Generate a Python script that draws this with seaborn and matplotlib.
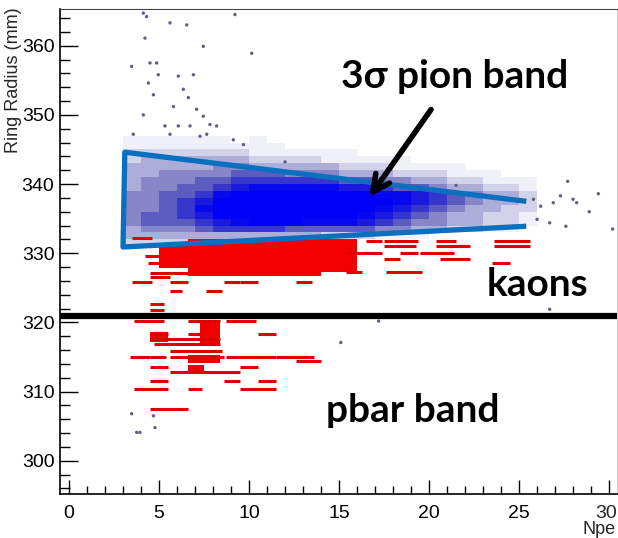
import numpy as np
import pandas as pd
import seaborn as sns
import matplotlib
matplotlib.use("Agg")
from matplotlib import pyplot as plt
from matplotlib.colors import ListedColormap
from matplotlib.ticker import MultipleLocator, FuncFormatter

# pion cloud density, 1 Npe x 1 mm cells, rows from top (346) to bottom (331), cols Npe 3..25
blue_y_top = 346
blue_x_first = 3
blue_rows = [
    "11111101000000000000000",
    "11111111100000000000000",
    "22222221111110000000000",
    "23333332222111110000000",
    "33333443333322211110000",
    "33444455544433322211100",
    "34445566666655443322111",
    "34455678888877655433221",
    "44556899999999887654332",
    "44567999999999987654332",
    "44568999999999876543322",
    "45567999999998765433221",
    "45556789998887654433221",
    "34445666655555443322110",
    "33333333333222111000000",
    "22222211111000000000000",
]

# stray hits outside the bands
stray_x = [4.13, 4.31, 5.61, 6.54, 9.22, 4.22, 7.46, 10.15, 3.48, 4.5, 4.87, 4.96, 6.07, 6.91,
           4.41, 6.35, 4.69, 6.63, 5.8, 7.09, 4.13, 7.46, 5.33, 6.07, 6.72, 7.83, 8.2, 3.57,
           5.61, 7.28, 7.65, 9.13, 9.69, 25.8, 26.2, 26.9, 27.3, 27.7, 28.0, 26.0, 26.7, 27.6,
           28.2, 30.2, 28.9, 29.4, 3.48, 3.76, 3.94, 4.78, 4.69, 15.1, 17.2, 26.7, 12.0, 21.5]
stray_y = [364.7, 364.2, 363.3, 363.0, 364.5, 361.1, 359.9, 358.9, 357.0, 357.5, 357.5, 355.8,
           355.6, 355.8, 354.6, 353.7, 352.9, 352.5, 351.2, 350.8, 350.0, 349.8, 348.4, 348.4,
           348.4, 348.6, 348.4, 347.2, 347.2, 346.9, 347.2, 346.4, 345.7, 337.8, 336.8, 337.3,
           338.3, 340.4, 337.8, 334.9, 334.4, 333.9, 337.3, 333.5, 336.0, 338.6, 306.8, 304.1,
           304.1, 304.8, 306.5, 317.1, 320.2, 321.9, 343.2, 339.8]

# dense kaon / pbar blocks: (x0, x1, y0, y1)
red_blocks = [
    (5.0, 6.6, 327.8, 331.5),
    (6.6, 14.0, 326.7, 332.0),
    (14.0, 16.0, 327.3, 332.0),
    (4.5, 5.5, 317.1, 318.6),
    (7.3, 8.4, 316.6, 320.0),
    (6.6, 8.4, 314.2, 315.3),
    (6.6, 7.5, 312.6, 313.9),
]

# short red streaks: (x0, x1, y)
red_streaks = [
    (3.5, 4.6, 332.2), (4.5, 6.6, 327.2), (4.5, 5.6, 326.5), (4.2, 5.0, 329.6), (4.4, 5.0, 328.6),
    (3.5, 4.6, 325.8), (5.6, 6.6, 325.8), (8.6, 9.5, 325.8), (9.5, 10.5, 325.8), (12.6, 13.5, 325.8),
    (5.6, 6.3, 324.6), (7.6, 8.5, 324.6), (4.5, 5.3, 322.6), (4.5, 5.3, 321.8),
    (16.5, 17.4, 331.7), (17.5, 19.4, 331.7), (20.4, 21.5, 331.7), (23.6, 25.6, 331.7),
    (17.5, 19.3, 331.1), (20.4, 22.3, 331.1), (23.6, 25.6, 331.1),
    (15.5, 17.4, 330.1), (18.4, 19.4, 330.1), (19.5, 21.4, 330.1),
    (17.5, 18.4, 329.1), (20.6, 22.3, 329.1), (23.5, 24.5, 328.6),
    (15.4, 16.3, 327.3), (17.6, 19.6, 327.3),
    (3.6, 5.3, 320.2), (6.6, 8.4, 320.2), (8.7, 10.4, 320.2),
    (4.5, 5.5, 318.3), (6.6, 7.4, 318.3), (10.5, 11.5, 318.3),
    (4.5, 8.4, 317.6), (4.7, 8.4, 316.9), (5.6, 8.5, 315.8),
    (3.4, 4.5, 315.0), (4.5, 5.4, 315.0), (5.6, 8.6, 315.0), (8.7, 11.5, 315.0), (11.5, 13.6, 315.0),
    (12.6, 14.0, 314.4), (4.5, 5.5, 313.6), (9.5, 10.5, 313.6),
    (5.6, 9.5, 312.8), (4.5, 5.5, 311.5), (8.6, 9.5, 311.5), (10.5, 11.5, 311.5),
    (3.6, 5.5, 310.4), (6.6, 7.4, 310.4), (9.5, 11.5, 310.4),
    (4.5, 6.6, 307.5),
]

kaon_cut = 320.9
# 3 sigma pion band outline (open on the right)
band_x = [25.4, 3.1, 3.0, 25.4]
band_y = [337.5, 344.6, 330.9, 333.9]

x_max_tick = 30

# long table for the pion cloud
cells = []
for i, row in enumerate(blue_rows):
    for j, ch in enumerate(row):
        cells.append((blue_x_first + j + 0.5, blue_y_top - i + 0.5, int(ch)))
cloud = pd.DataFrame(cells, columns=["npe", "radius", "w"])

sns.set_style("white")
plt.rcParams["font.family"] = ["Liberation Sans Narrow", "Liberation Sans", "DejaVu Sans"]

fig = plt.figure(figsize=(6.18, 5.38), dpi=100)
ax = fig.add_axes([60 / 618, 44 / 538, 557 / 618, 485 / 538])

# one colour per density level 1..9 (0 is left blank by histplot)
cmap = ListedColormap(["#f0f0f8", "#d2d2ea", "#adadda", "#8686c8", "#5c5cc0",
                       "#3636cc", "#1a1ade", "#0808ee", "#0000f8"])
x_edges = np.arange(blue_x_first, blue_x_first + len(blue_rows[0]) + 1)
y_edges = np.arange(blue_y_top - len(blue_rows) + 1, blue_y_top + 2)
sns.histplot(data=cloud, x="npe", y="radius", weights="w", bins=[x_edges, y_edges],
             cmap=cmap, vmin=0.5, vmax=9.5, ax=ax)

for x0, x1, y0, y1 in red_blocks:
    ax.fill_between([x0, x1], y0, y1, color="#f20000", lw=0, zorder=3)
for x0, x1, y in red_streaks:
    ax.hlines(y, x0, x1, color="#e00000", lw=2.2, zorder=3)

sns.scatterplot(x=stray_x, y=stray_y, s=6, color="#60608a", edgecolor="none", ax=ax, zorder=3)

ax.axhline(kaon_cut, color="black", lw=4.5, zorder=5)
ax.plot(band_x, band_y, color="#0a6fbf", lw=3.8, solid_capstyle="butt", zorder=6)

bold = dict(fontweight="bold", family=["Lato", "DejaVu Sans"], color="black", zorder=7)
ax.text(21.4, 355.5, "3σ pion band", ha="center", va="center", fontsize=28, **bold)
ax.text(26.0, 325.5, "kaons", ha="center", va="center", fontsize=28, **bold)
ax.text(19.1, 307.2, "pbar band", ha="center", va="center", fontsize=28, **bold)
ax.annotate("", xy=(16.6, 337.8), xytext=(20.2, 351.1),
            arrowprops=dict(arrowstyle="->", lw=4, color="black", mutation_scale=30), zorder=7)

ax.set_xlim(-0.5, 30.44)
ax.set_ylim(295.2, 365.3)
ax.xaxis.set_major_locator(MultipleLocator(5))
ax.xaxis.set_minor_locator(MultipleLocator(1))
ax.yaxis.set_major_locator(MultipleLocator(10))
ax.yaxis.set_minor_locator(MultipleLocator(2))
# last x label sits on the canvas edge, drawn separately a touch to the left
ax.xaxis.set_major_formatter(FuncFormatter(lambda v, p: "" if v >= x_max_tick else f"{v:.0f}"))
ax.tick_params(axis="both", which="both", direction="in", colors="black", labelsize=14,
               top=False, right=False, bottom=True, left=True)
ax.tick_params(axis="y", which="major", length=13, width=1, pad=4)
ax.tick_params(axis="y", which="minor", length=7, width=1)
ax.tick_params(axis="x", which="major", length=10, width=1, pad=8)
ax.tick_params(axis="x", which="minor", length=6, width=1)
ax.annotate(str(x_max_tick), xy=(x_max_tick, 0), xycoords=("data", "axes fraction"),
            xytext=(-2.5, -8), textcoords="offset points", ha="center", va="top", fontsize=14)

ax.set_xlabel("")
ax.set_ylabel("Ring Radius (mm)", fontsize=13, ha="right")
ax.yaxis.set_label_coords(-0.068, 1.003)
fig.text(616 / 618, 1 - 530 / 538, "Npe", ha="right", va="center", fontsize=13)

for side in ["left", "bottom"]:
    ax.spines[side].set_color("black")
    ax.spines[side].set_linewidth(1.2)
ax.spines["top"].set_color("#444444")
ax.spines["right"].set_color("#cccccc")

plt.savefig("out.png", dpi=100)
